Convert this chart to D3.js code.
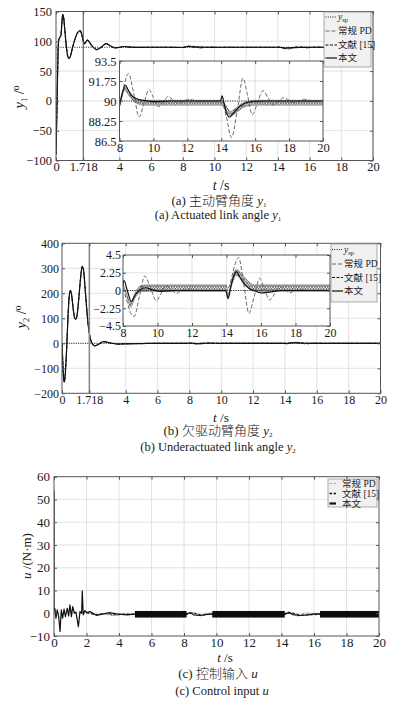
<!DOCTYPE html>
<html><head><meta charset="utf-8">
<script src="https://cdn.jsdelivr.net/npm/d3@7/dist/d3.min.js"></script>
<style>body{margin:0;background:#fff}svg{display:block}</style>
</head><body>
<svg id="c" width="396" height="706"></svg>
<script>
// ---------------- DATA ----------------
const xTicksAB = [0, 1.718, 4, 6, 8, 10, 12, 14, 16, 18, 20];
const xTicksC = [0, 2, 4, 6, 8, 10, 12, 14, 16, 18, 20];
const insetXTicks = [8, 10, 12, 14, 16, 18, 20];
const yTicksA = [-100, -50, 0, 50, 100, 150];
const yTicksB = [-200, -100, 0, 100, 200, 300, 400];
const yTicksC = [-10, 0, 10, 20, 30, 40, 50, 60];
const insetYTicksA = [86.5, 88.25, 90, 91.75, 93.5];
const insetYTicksB = [-4.5, -2.25, 0, 2.25, 4.5];
const switchTime = 1.718;
const y1Ref = 90, y2Ref = 0;

// (a) swing-up phase y1
const swingT1 = [0, 0.04, 0.09, 0.14, 0.19, 0.25, 0.31, 0.37, 0.42, 0.48, 0.56, 0.65, 0.74, 0.82, 0.92, 1.05, 1.2, 1.35, 1.52, 1.62, 1.718];
const swingY1 = [-90, -40, 30, 90, 104, 107, 110, 130, 145, 140, 118, 92, 75, 71, 76, 90, 104, 114, 118, 112, 101];
// (a) settling 1.718..8
const settleT1 = [1.718, 1.8, 1.98, 2.25, 2.57, 2.85, 3.16, 3.45, 3.73, 4.0, 4.3, 4.7, 5.2, 6, 7, 8];
const settleY1 = [101, 96, 102, 93, 86, 90, 96, 92, 89, 89.8, 91.3, 90.2, 89.8, 90, 90, 89.6];
// (a) 8..20 conventional PD
const pdT_a = [8, 8.2, 8.52, 8.85, 9.15, 9.45, 9.73, 10.0, 10.28, 10.58, 10.87, 11.15, 11.46, 11.8, 12.15, 12.5, 12.9, 13.4, 14.0, 14.3, 14.6, 14.95, 15.28, 15.55, 15.83, 16.15, 16.46, 16.75, 17.05, 17.4, 17.7, 18.0, 18.3, 18.6, 18.9, 19.3, 19.7, 20];
const pdY_a = [89.6, 90.9, 92.4, 90.6, 88.6, 89.8, 91.0, 90.3, 89.5, 89.9, 90.4, 90.1, 89.8, 90.0, 90.15, 90.0, 89.95, 90.0, 90.0, 88.6, 86.8, 89.2, 92.0, 90.5, 88.8, 89.9, 90.9, 90.3, 89.65, 90.0, 90.3, 90.05, 89.85, 90.0, 90.15, 90.0, 89.95, 90.0];
// (a) 8..20 this paper
const ourT_a = [8, 8.15, 8.35, 8.5, 8.7, 9.0, 9.4, 10, 11, 12, 13, 13.95, 14.05, 14.15, 14.3, 14.5, 14.7, 15.0, 15.4, 15.8, 16.5, 17.5, 18.5, 19.5, 20];
const ourY_a = [89.6, 90.6, 91.4, 91.0, 90.5, 90.2, 90.05, 89.95, 90.0, 90.0, 90.0, 90.0, 90.45, 89.9, 89.0, 88.6, 88.9, 89.4, 89.8, 89.95, 90.0, 90.0, 90.0, 90.0, 90.0];
// (a) 8..20 ref [15]: centre and chattering half-width
const litT_a = [8, 8.15, 8.3, 8.5, 8.75, 9.0, 9.5, 10.5, 14.0, 14.2, 14.4, 14.55, 14.8, 15.1, 15.5, 16, 20];
const litC_a = [89.5, 90.4, 91.1, 90.8, 90.3, 90.0, 89.85, 89.85, 89.85, 89.6, 89.1, 88.9, 89.1, 89.45, 89.75, 89.85, 89.85];
const litH_a = [0.05, 0.1, 0.15, 0.2, 0.2, 0.22, 0.22, 0.22, 0.22, 0.2, 0.2, 0.2, 0.22, 0.22, 0.22, 0.22, 0.22];

// (b) swing-up phase y2
const swingT2 = [0, 0.04, 0.09, 0.15, 0.22, 0.3, 0.38, 0.45, 0.52, 0.6, 0.7, 0.78, 0.86, 0.95, 1.05, 1.15, 1.27, 1.36, 1.45, 1.55, 1.65, 1.718];
const swingY2 = [0, -60, -130, -155, -110, -10, 110, 185, 212, 195, 140, 105, 96, 115, 175, 250, 308, 290, 220, 140, 70, 40];
const settleT2 = [1.718, 1.85, 2.05, 2.3, 2.6, 3.0, 3.5, 4.0, 5.0, 6.0, 7.0, 8.0];
const settleY2 = [40, 5, -10, -4, 7, 2, -3, -2, -1, 0, 0, 0.3];
const pdT_b = [8, 8.25, 8.45, 8.64, 8.95, 9.26, 9.6, 9.93, 10.2, 10.5, 10.8, 11.1, 11.4, 11.8, 12.3, 13, 14.0, 14.2, 14.45, 14.7, 15.0, 15.3, 15.6, 15.92, 16.2, 16.5, 16.8, 17.08, 17.4, 17.66, 18.0, 18.3, 18.7, 19.2, 20];
const pdY_b = [0.3, -1.5, -2.9, -3.3, -0.8, 1.84, 0.3, -1.3, -0.4, 0.57, 0.1, -0.36, 0.0, 0.2, 0.0, -0.05, 0.0, 0.8, 3.0, 4.2, 0.8, -2.9, -0.8, 1.54, 0.2, -1.2, -0.4, 0.49, 0.1, -0.3, 0.0, 0.15, 0.0, 0.0, 0.0];
const ourT_b = [8, 8.05, 8.25, 8.48, 8.7, 9.0, 9.3, 9.7, 10.2, 11, 12, 13, 13.95, 14.09, 14.25, 14.45, 14.57, 14.75, 15.0, 15.3, 15.6, 16.0, 16.5, 17.2, 18, 19, 20];
const ourY_b = [0.5, 1.3, 0.0, -1.4, -0.6, 0.1, 0.35, 0.1, -0.1, 0.0, 0.0, 0.0, 0.0, -1.0, 0.5, 2.0, 2.4, 1.8, 0.9, 0.3, 0.0, -0.3, -0.2, 0.0, 0.0, 0.0, 0.0];
const litT_b = [8, 8.2, 8.45, 8.7, 9.0, 9.3, 14.0, 14.08, 14.3, 14.57, 14.85, 15.2, 15.6, 20];
const litC_b = [0.8, -0.5, -1.8, -0.6, 0.2, 0.3, 0.3, -0.8, 1.0, 2.3, 1.8, 0.9, 0.3, 0.3];
const litH_b = [0.1, 0.2, 0.3, 0.35, 0.4, 0.42, 0.42, 0.3, 0.4, 0.4, 0.42, 0.42, 0.42, 0.42];

// (c) control input u
const uOurT = [0, 0.005, 0.06, 0.12, 0.2, 0.29, 0.37, 0.45, 0.53, 0.62, 0.7, 0.82, 0.9, 0.98, 1.07, 1.15, 1.25, 1.35, 1.5, 1.6, 1.7, 1.74, 1.8, 1.9, 2.0, 2.2, 2.4, 2.6, 3.0, 3.4, 3.85, 4.5, 4.95, 6, 7, 8.16, 8.37, 8.6, 9.0, 9.4, 9.74, 11, 12.5, 14.2, 14.45, 14.7, 15.1, 15.6, 16.0, 16.37, 18, 20];
const uOur = [54, 1, 2, -2.2, 1.5, -1.5, -8, 1.5, -2.2, 1.8, -1.5, 2.2, -1.2, 3.7, -1.5, 2.9, 0, 0.5, -5.9, 0.7, 0, 9.8, -0.7, 1.2, 0.3, 0.7, 0, -0.9, -0.4, 0.3, -0.3, -0.7, -0.4, -0.4, -0.4, -0.4, 0.3, -0.7, -1.0, -0.5, -0.3, -0.4, -0.4, -0.4, 0.4, -0.6, -1.0, -0.7, -0.3, -0.3, -0.4, -0.4];
const uPdT = [2, 2.5, 3, 3.5, 4, 5, 6, 7, 8, 8.5, 9, 9.5, 10, 12, 14, 14.5, 15, 15.5, 16, 18, 20];
const uPd = [0.5, -0.8, -0.2, -1, -0.6, -0.5, -0.5, -0.5, -0.5, 0.5, -1.2, 0.2, -0.5, -0.5, -0.5, 0.6, -1.3, 0.3, -0.5, -0.5, -0.5];
const uLitT = [2, 2.6, 3.2, 3.8, 4.4, 5, 8.2, 8.6, 9.1, 9.7, 14.2, 14.6, 15.2, 16.4, 20];
const uLit = [0.2, -0.6, -0.1, -0.8, -0.3, -0.5, -0.5, 0.2, -0.9, -0.4, -0.4, 0.3, -0.9, -0.5, -0.5];
// chattering bands of u
const bandStartT = [4.98, 9.74, 16.37];
const bandEndT = [8.16, 14.2, 20];
const bandLowU = [-1.9, -1.9, -1.9];
const bandHighU = [1.0, 1.0, 1.0];

// ---------------- DRAWING ----------------
const svg = d3.select('#c');
const SERIF = '"Liberation Serif","Times New Roman",serif';
const MIX = '"Liberation Serif","Noto Sans CJK SC",serif';
const AX = '#555', GRID = '#dadada', TXT = '#1a1a1a';
const defs = svg.append('defs');
defs.append('pattern').attr('id', 'hatch').attr('patternUnits', 'userSpaceOnUse')
  .attr('width', 2.6).attr('height', 3.6)
  .append('path').attr('d', 'M0,3.6 L1.3,0 L2.6,3.6').attr('fill', 'none')
  .attr('stroke', '#2a2a2a').attr('stroke-width', 0.7);

const zip = (a, b) => a.map((t, i) => [t, b[i]]);
const fmt = d => (d === 1.718 ? '1.718' : String(d).replace('-', '\u2212'));
const STY = {
  ref: { stroke: '#222', w: 1, dash: '1,1.3' },
  pd: { stroke: '#6a6a6a', w: 1, dash: '4,2' },
  lit: { stroke: '#111', w: 1, dash: '3,1.5' },
  our: { stroke: '#111', w: 1.2, dash: null }
};

function frame(o) {
  const x = d3.scaleLinear().domain(o.xd).range([o.l, o.r]);
  const y = d3.scaleLinear().domain(o.yd).range([o.b, o.t]);
  const g = svg.append('g');
  g.append('rect').attr('x', o.l).attr('y', o.t).attr('width', o.r - o.l).attr('height', o.b - o.t).attr('fill', '#fff');
  g.selectAll(null).data(o.xGrid).join('line')
    .attr('x1', d => x(d)).attr('x2', d => x(d)).attr('y1', o.t).attr('y2', o.b)
    .attr('stroke', GRID).attr('stroke-width', 0.8);
  g.selectAll(null).data(o.yGrid).join('line')
    .attr('y1', d => y(d)).attr('y2', d => y(d)).attr('x1', o.l).attr('x2', o.r)
    .attr('stroke', GRID).attr('stroke-width', 0.8);
  const clipId = 'clip' + Math.round(o.l) + '_' + Math.round(o.t);
  defs.append('clipPath').attr('id', clipId).append('rect')
    .attr('x', o.l).attr('y', o.t).attr('width', o.r - o.l).attr('height', o.b - o.t);
  const data = g.append('g').attr('clip-path', `url(#${clipId})`);
  return { x, y, g, data, o };
}
function axes(P, xTicks, yTicks, fs, padX, padY) {
  const { x, y, g, o } = P;
  const style = s => {
    s.attr('font-family', SERIF).attr('font-size', fs);
    s.select('.domain').remove();
    s.selectAll('line').attr('stroke', AX);
    s.selectAll('text').attr('font-family', SERIF).attr('font-size', fs).attr('fill', TXT);
  };
  g.append('g').attr('transform', `translate(0,${o.b})`)
    .call(d3.axisBottom(x).tickValues(xTicks).tickFormat(fmt).tickSizeInner(-3).tickSizeOuter(0).tickPadding(padX)).call(style);
  g.append('g').attr('transform', `translate(0,${o.t})`)
    .call(d3.axisTop(x).tickValues(xTicks).tickFormat('').tickSizeInner(-3).tickSizeOuter(0)).call(style);
  g.append('g').attr('transform', `translate(${o.l},0)`)
    .call(d3.axisLeft(y).tickValues(yTicks).tickFormat(fmt).tickSizeInner(-3).tickSizeOuter(0).tickPadding(padY)).call(style);
  g.append('g').attr('transform', `translate(${o.r},0)`)
    .call(d3.axisRight(y).tickValues(yTicks).tickFormat('').tickSizeInner(-3).tickSizeOuter(0)).call(style);
  g.append('rect').attr('x', o.l).attr('y', o.t).attr('width', o.r - o.l).attr('height', o.b - o.t)
    .attr('fill', 'none').attr('stroke', AX).attr('stroke-width', 1);
}
function line(P, pts, st, curve) {
  const gen = d3.line().x(d => P.x(d[0])).y(d => P.y(d[1])).curve(curve || d3.curveMonotoneX);
  const p = P.data.append('path').attr('d', gen(pts)).attr('fill', 'none')
    .attr('stroke', st.stroke).attr('stroke-width', st.w).attr('stroke-linejoin', 'round');
  if (st.dash) p.attr('stroke-dasharray', st.dash);
  return p;
}
function band(P, T, C, H) {
  const pts = T.map((t, i) => ({ t, lo: C[i] - H[i], hi: C[i] + H[i] }));
  const gen = d3.area().x(d => P.x(d.t)).y0(d => P.y(d.lo)).y1(d => P.y(d.hi)).curve(d3.curveMonotoneX);
  P.data.append('path').attr('d', gen(pts)).attr('fill', 'url(#hatch)').attr('stroke', '#333').attr('stroke-width', 0.3);
}
function vline(P, t, color, w) {
  P.data.append('line').attr('x1', P.x(t)).attr('x2', P.x(t)).attr('y1', P.o.t).attr('y2', P.o.b)
    .attr('stroke', color).attr('stroke-width', w);
}
function hline(P, v) {
  P.data.append('line').attr('x1', P.o.l).attr('x2', P.o.r).attr('y1', P.y(v)).attr('y2', P.y(v))
    .attr('stroke', STY.ref.stroke).attr('stroke-width', STY.ref.w).attr('stroke-dasharray', STY.ref.dash);
}
function txt(x, y, size, anchor, parts, rot) {
  const t = svg.append('text').attr('x', x).attr('y', y).attr('font-size', size).attr('font-family', MIX)
    .attr('fill', TXT).attr('text-anchor', anchor);
  if (rot) t.attr('transform', `rotate(-90,${x},${y})`);
  parts.forEach(p => {
    const s = t.append('tspan').text(p.s);
    if (p.i) s.attr('font-style', 'italic');
    if (p.fs) s.attr('font-size', p.fs);
    if (p.dy) s.attr('dy', p.dy);
    if (p.cjk) s.attr('font-weight', 300);
  });
  return t;
}
function legend(x0, y0, w, h, rows, fs, sampleL, sampleR, textX) {
  svg.append('rect').attr('x', x0).attr('y', y0).attr('width', w).attr('height', h)
    .attr('fill', '#f1f1f1').attr('stroke', '#9a9a9a').attr('stroke-width', 0.8);
  rows.forEach(r => {
    const l = svg.append('line').attr('x1', sampleL).attr('x2', sampleR).attr('y1', r.y).attr('y2', r.y)
      .attr('stroke', r.st.stroke).attr('stroke-width', r.w || r.st.w);
    if (r.st.dash) l.attr('stroke-dasharray', r.dash || r.st.dash);
    txt(textX, r.y + fs * 0.35, fs, 'start', r.parts);
  });
}

// ===== Panel (a) =====
const A = frame({ l: 56, r: 373, t: 11.5, b: 160.5, xd: [0, 20], yd: [-100, 150],
  xGrid: xTicksAB.slice(2), yGrid: yTicksA.slice(1, -1) });
hline(A, y1Ref);
const a_pd = zip(swingT1, swingY1).concat(zip(settleT1, settleY1).slice(1), zip(pdT_a, pdY_a).slice(1));
const a_lit = zip(swingT1, swingY1).concat(zip(settleT1, settleY1).slice(1), zip(litT_a, litC_a).slice(1));
const a_our = zip(swingT1, swingY1).concat(zip(settleT1, settleY1).slice(1), zip(ourT_a, ourY_a).slice(1));
line(A, a_pd, STY.pd); line(A, a_lit, STY.lit); line(A, a_our, STY.our);
vline(A, switchTime, '#444', 1);
axes(A, xTicksAB, yTicksA, 12.5, 2, 4);
const Ai = frame({ l: 119.5, r: 323, t: 61, b: 141, xd: [8, 20], yd: [86.5, 93.5],
  xGrid: insetXTicks.slice(1, -1), yGrid: insetYTicksA.slice(1, -1) });
hline(Ai, y1Ref);
band(Ai, litT_a, litC_a, litH_a);
line(Ai, zip(pdT_a, pdY_a), STY.pd);
line(Ai, zip(ourT_a, ourY_a), STY.our);
axes(Ai, insetXTicks, insetYTicksA, 12.5, 2.5, 3);
legend(324, 12, 47, 55, [
  { y: 17, st: STY.ref, parts: [{ s: 'y', i: 1 }, { s: 'sp', fs: 6.5, dy: 2 }] },
  { y: 31, st: STY.pd, parts: [{ s: '常规 PD' }] },
  { y: 45, st: STY.lit, parts: [{ s: '文献 [15]' }] },
  { y: 58, st: STY.our, parts: [{ s: '本文' }] }
], 9.5, 325.5, 337, 338);
txt(24, 97, 14.5, 'middle', [{ s: 'y', i: 1 }, { s: '1', fs: 8.5, dy: 3 }, { s: ' /', dy: -3 }, { s: 'o', fs: 9.5, dy: -5 }], true);
txt(221, 189.5, 14, 'middle', [{ s: 't', i: 1 }, { s: ' /s' }]);
txt(219, 205, 13, 'middle', [{ s: '(a) ' }, { s: '主动臂角度 ', cjk: 1 }, { s: 'y', i: 1 }, { s: '1', fs: 7, dy: 2 }]);
txt(218, 219, 12.5, 'middle', [{ s: '(a) Actuated link angle ' }, { s: 'y', i: 1 }, { s: '1', fs: 7, dy: 2 }]);

// ===== Panel (b) =====
const B = frame({ l: 62, r: 380.5, t: 243.3, b: 393.3, xd: [0, 20], yd: [-200, 400],
  xGrid: xTicksAB.slice(2), yGrid: yTicksB.slice(1, -1) });
hline(B, y2Ref);
const b_pd = zip(swingT2, swingY2).concat(zip(settleT2, settleY2).slice(1), zip(pdT_b, pdY_b).slice(1));
const b_lit = zip(swingT2, swingY2).concat(zip(settleT2, settleY2).slice(1), zip(litT_b, litC_b).slice(1));
const b_our = zip(swingT2, swingY2).concat(zip(settleT2, settleY2).slice(1), zip(ourT_b, ourY_b).slice(1));
line(B, b_pd, STY.pd); line(B, b_lit, STY.lit); line(B, b_our, STY.our);
vline(B, switchTime, '#8a8a8a', 1.6);
axes(B, xTicksAB, yTicksB, 12, 2, 3);
const Bi = frame({ l: 123, r: 330, t: 255, b: 326, xd: [8, 20], yd: [-4.5, 4.5],
  xGrid: insetXTicks.slice(1, -1), yGrid: insetYTicksB.slice(1, -1) });
hline(Bi, y2Ref);
band(Bi, litT_b, litC_b, litH_b);
line(Bi, zip(pdT_b, pdY_b), STY.pd);
line(Bi, zip(ourT_b, ourY_b), STY.our);
axes(Bi, insetXTicks, insetYTicksB, 12, 2.5, 2);
legend(331, 244, 46, 58, [
  { y: 249.5, st: STY.ref, parts: [{ s: 'y', i: 1 }, { s: 'sp', fs: 6.5, dy: 2 }] },
  { y: 264, st: STY.pd, parts: [{ s: '常规 PD' }] },
  { y: 277.5, st: STY.lit, parts: [{ s: '文献 [15]' }] },
  { y: 291, st: STY.our, parts: [{ s: '本文' }] }
], 9.5, 332, 343, 344);
txt(26, 317, 14.5, 'middle', [{ s: 'y', i: 1 }, { s: '2', fs: 8.5, dy: 3 }, { s: ' /', dy: -3 }, { s: 'o', fs: 9.5, dy: -5 }], true);
txt(221, 421.5, 13.5, 'middle', [{ s: 't', i: 1 }, { s: ' /s' }]);
txt(218, 435, 13, 'middle', [{ s: '(b) ' }, { s: '欠驱动臂角度 ', cjk: 1 }, { s: 'y', i: 1 }, { s: '2', fs: 7, dy: 2 }]);
txt(218, 450.5, 12.5, 'middle', [{ s: '(b) Underactuated link angle ' }, { s: 'y', i: 1 }, { s: '2', fs: 7, dy: 2 }]);

// ===== Panel (c) =====
const C = frame({ l: 54, r: 379, t: 476.7, b: 636, xd: [0, 20], yd: [-10, 60],
  xGrid: xTicksC.slice(1, -1), yGrid: yTicksC.slice(1, -1) });
line(C, zip(uPdT, uPd), { stroke: '#9a9a9a', w: 1, dash: '3,2' }, d3.curveLinear);
line(C, zip(uLitT, uLit), STY.lit, d3.curveLinear);
line(C, zip(uOurT, uOur), STY.our, d3.curveLinear);
C.data.selectAll(null).data(bandStartT.map((s, i) => ({ s, e: bandEndT[i], lo: bandLowU[i], hi: bandHighU[i] })))
  .join('rect').attr('x', d => C.x(d.s)).attr('width', d => C.x(d.e) - C.x(d.s))
  .attr('y', d => C.y(d.hi)).attr('height', d => C.y(d.lo) - C.y(d.hi)).attr('fill', '#0d0d0d');
axes(C, xTicksC, yTicksC, 13, 1.5, 4);
legend(328, 479, 49, 28, [
  { y: 483.5, st: { stroke: '#aaa', w: 1.2, dash: '2.5,1.5' }, parts: [{ s: '常规 PD' }] },
  { y: 493.5, st: { stroke: '#111', w: 1.4, dash: '2.5,1.5' }, parts: [{ s: '文献 [15]' }] },
  { y: 503.5, st: { stroke: '#111', w: 2.2, dash: null }, parts: [{ s: '本文' }] }
], 9.5, 329.5, 336, 342);
txt(31, 556, 13, 'middle', [{ s: 'u', i: 1 }, { s: ' /(N·m)' }], true);
txt(225, 662, 13, 'middle', [{ s: 't', i: 1 }, { s: ' /s' }]);
txt(218, 678, 13, 'middle', [{ s: '(c) ' }, { s: '控制输入 ', cjk: 1 }, { s: 'u', i: 1 }]);
txt(222, 695, 12.5, 'middle', [{ s: '(c) Control input ' }, { s: 'u', i: 1 }]);
</script>
</body></html>
